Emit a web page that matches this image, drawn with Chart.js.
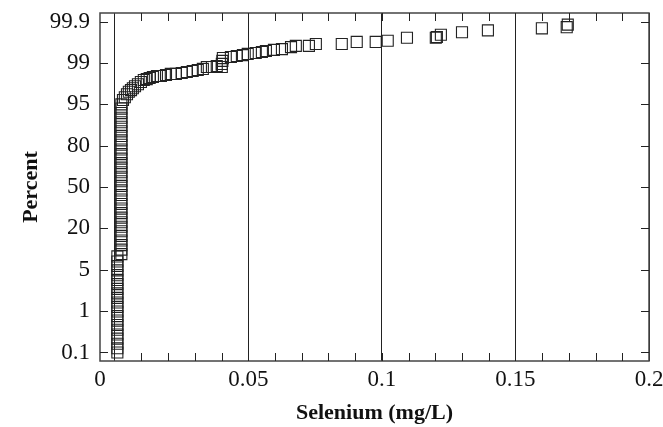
<!DOCTYPE html>
<html>
<head>
<meta charset="utf-8">
<script src="https://cdn.jsdelivr.net/npm/chart.js@4"></script>
<style>
  html, body { margin: 0; padding: 0; background: #fff; }
  canvas { display: block; }
</style>
</head>
<body>
<canvas id="chart" width="663" height="427"></canvas>
<script>
// probability axis: these percents sit at equal steps up the y axis
const yTickPercents = [0.1, 1, 5, 20, 50, 80, 95, 99, 99.9];
const xTickValues = [0, 0.05, 0.1, 0.15, 0.2];
const xTickLabels = ['0', '0.05', '0.1', '0.15', '0.2'];

// stacked values at the lower reporting limit
const lowLimitX = 0.001;
const lowLimitPercents = [0.1, 0.13, 0.17, 0.23, 0.29, 0.38, 0.49, 0.62, 0.78, 0.98,
  1.2, 1.45, 1.75, 2.1, 2.5, 3.0, 3.5, 4.15, 4.9, 5.8, 6.9, 8.3];

// stacked values at the higher reporting limit
const highLimitX = 0.0025;
const highLimitPercents = [9.0, 10.5, 12.2, 14.1, 16.2, 18.5, 21.0, 23.7, 26.7, 29.8,
  33.1, 36.5, 40.0, 43.6, 47.3, 51.0, 54.7, 58.3, 61.9, 65.4, 68.7, 71.9, 74.9, 77.8,
  80.5, 82.8, 84.9, 86.9, 88.7, 90.3, 91.7, 93.0, 94.1, 95.0];

// detected values in the upper tail
const tailSelenium = [0.0031, 0.0038, 0.0046, 0.0053, 0.0061, 0.0068, 0.0076, 0.0087, 0.0098, 0.0109,
  0.0120, 0.0131, 0.0143, 0.0158, 0.0173, 0.0192, 0.0210, 0.0229, 0.0251, 0.0270,
  0.0292, 0.0311, 0.0330, 0.0345, 0.0364, 0.0382, 0.0401, 0.0401, 0.0403, 0.0405,
  0.0435, 0.0457, 0.0480, 0.0498, 0.0528, 0.0551, 0.0566, 0.0596, 0.0626, 0.0660,
  0.0678, 0.0727, 0.0753, 0.0850, 0.0906, 0.0977, 0.1022, 0.1094, 0.1202, 0.1206,
  0.1221, 0.1300, 0.1397, 0.1599, 0.1692, 0.1696];
const tailPercents = [95.7, 96.1, 96.5, 96.8, 97.0, 97.2, 97.4, 97.6, 97.8, 97.97,
  98.04, 98.12, 98.2, 98.27, 98.27, 98.34, 98.41, 98.41, 98.47, 98.53,
  98.59, 98.65, 98.71, 98.81, 98.81, 98.86, 98.81, 98.96, 99.10, 99.22,
  99.26, 99.30, 99.33, 99.37, 99.40, 99.43, 99.46, 99.49, 99.51, 99.56,
  99.59, 99.59, 99.63, 99.63, 99.67, 99.67, 99.69, 99.74, 99.74, 99.75,
  99.78, 99.81, 99.83, 99.85, 99.86, 99.88];

// inverse normal (Acklam)
function normInv(p) {
  const a = [-3.969683028665376e+01, 2.209460984245205e+02, -2.759285104469687e+02, 1.383577518672690e+02, -3.066479806614716e+01, 2.506628277459239e+00];
  const b = [-5.447609879822406e+01, 1.615858368580409e+02, -1.556989798598866e+02, 6.680131188771972e+01, -1.328068155288572e+01];
  const c = [-7.784894002430293e-03, -3.223964580411365e-01, -2.400758277161838e+00, -2.549671010336680e+00, 4.374664141464968e+00, 2.938163982698783e+00];
  const d = [7.784695709041462e-03, 3.224671290700398e-01, 2.445134137142996e+00, 3.754408661907416e+00];
  const pl = 0.02425;
  let q, r;
  if (p < pl) {
    q = Math.sqrt(-2 * Math.log(p));
    return (((((c[0]*q+c[1])*q+c[2])*q+c[3])*q+c[4])*q+c[5]) / ((((d[0]*q+d[1])*q+d[2])*q+d[3])*q+1);
  }
  if (p > 1 - pl) {
    q = Math.sqrt(-2 * Math.log(1 - p));
    return -(((((c[0]*q+c[1])*q+c[2])*q+c[3])*q+c[4])*q+c[5]) / ((((d[0]*q+d[1])*q+d[2])*q+d[3])*q+1);
  }
  q = p - 0.5; r = q * q;
  return (((((a[0]*r+a[1])*r+a[2])*r+a[3])*r+a[4])*r+a[5])*q / (((((b[0]*r+b[1])*r+b[2])*r+b[3])*r+b[4])*r+1);
}

// percent -> position on the tick-index axis (normal scale between ticks)
const tickZ = yTickPercents.map(p => normInv(p / 100));
function pctToPos(pct) {
  const z = normInv(pct / 100);
  let i = 0;
  while (i < tickZ.length - 2 && z > tickZ[i + 1]) i++;
  return i + (z - tickZ[i]) / (tickZ[i + 1] - tickZ[i]);
}

const points = [
  ...lowLimitPercents.map(p => ({x: lowLimitX, y: pctToPos(p)})),
  ...highLimitPercents.map(p => ({x: highLimitX, y: pctToPos(p)})),
  ...tailSelenium.map((x, i) => ({x: x, y: pctToPos(tailPercents[i])}))
];

const tickFont = '23px "Liberation Serif", "Times New Roman", serif';
const tickLen = 8;

// frame, inward ticks and x labels
const axisFrame = {
  id: 'axisFrame',
  afterDraw(chart) {
    const {ctx, chartArea: a, scales: {x, y}} = chart;
    ctx.save();
    ctx.strokeStyle = '#444';
    ctx.lineWidth = 1.5;
    ctx.strokeRect(a.left, a.top, a.right - a.left, a.bottom - a.top);

    ctx.strokeStyle = '#222';
    ctx.lineWidth = 1;
    ctx.beginPath();
    for (let k = 1; k < 20; k++) {
      const px = Math.round(x.getPixelForValue(k / 100)) + 0.5;
      ctx.moveTo(px, a.bottom); ctx.lineTo(px, a.bottom - tickLen);
      ctx.moveTo(px, a.top); ctx.lineTo(px, a.top + tickLen);
    }
    yTickPercents.forEach((p, i) => {
      const py = Math.round(y.getPixelForValue(i)) + 0.5;
      ctx.moveTo(a.left, py); ctx.lineTo(a.left + tickLen, py);
      ctx.moveTo(a.right, py); ctx.lineTo(a.right - tickLen, py);
    });
    ctx.stroke();

    ctx.font = tickFont;
    ctx.fillStyle = '#111';
    ctx.textAlign = 'center';
    ctx.textBaseline = 'top';
    xTickValues.forEach((v, i) => {
      // the original puts its "0" at the start of the axis
      const px = i === 0 ? a.left : x.getPixelForValue(v);
      ctx.fillText(xTickLabels[i], px, a.bottom + 7);
    });
    ctx.restore();
  }
};

new Chart(document.getElementById('chart'), {
  type: 'scatter',
  data: {
    datasets: [{
      data: points,
      pointStyle: 'rect',
      pointRadius: 7.8,
      pointHoverRadius: 7.8,
      borderColor: '#222',
      borderWidth: 1.1,
      backgroundColor: 'rgba(0,0,0,0)'
    }]
  },
  options: {
    responsive: false,
    animation: false,
    layout: { padding: { top: 13, right: 14, bottom: 0, left: 0 } },
    plugins: { legend: { display: false }, tooltip: { enabled: false } },
    scales: {
      x: {
        type: 'linear',
        min: -0.0055,
        max: 0.2,
        afterBuildTicks: s => { s.ticks = xTickValues.map(v => ({value: v})); },
        afterFit: s => { s.height = 66; s.paddingLeft = 0; s.paddingRight = 0; },
        ticks: { display: false },
        grid: { color: '#222', lineWidth: 1, drawTicks: false },
        border: { display: false },
        title: {
          display: true,
          text: 'Selenium (mg/L)',
          color: '#111',
          font: { family: '"Liberation Serif", "Times New Roman", serif', size: 22, weight: 'bold', lineHeight: 1.2 },
          padding: { top: 0, bottom: 0 }
        }
      },
      y: {
        type: 'linear',
        min: -0.206,
        max: 8.21,
        afterBuildTicks: s => { s.ticks = yTickPercents.map((p, i) => ({value: i})); },
        afterFit: s => { s.width = 100; s.paddingTop = 0; s.paddingBottom = 0; },
        ticks: {
          color: '#111',
          padding: 10,
          font: { family: '"Liberation Serif", "Times New Roman", serif', size: 23 },
          callback: v => String(yTickPercents[v])
        },
        grid: { display: false, drawTicks: false },
        border: { display: false },
        title: {
          display: true,
          text: 'Percent',
          color: '#111',
          font: { family: '"Liberation Serif", "Times New Roman", serif', size: 22, weight: 'bold', lineHeight: 1.2 },
          padding: { top: 18, bottom: 0 }
        }
      }
    }
  },
  plugins: [axisFrame]
});
</script>
</body>
</html>
